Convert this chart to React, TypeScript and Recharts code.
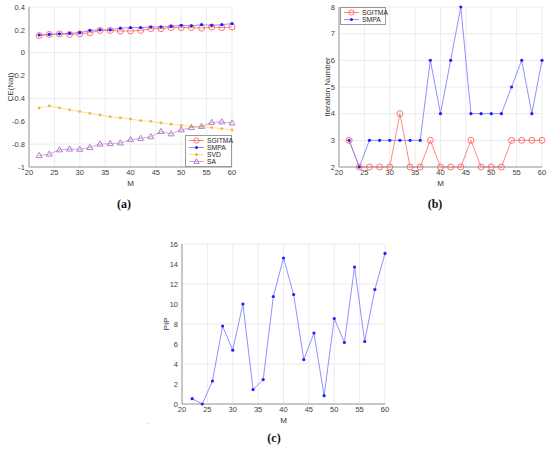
import React from 'react';
import { LineChart, Line, XAxis, YAxis, CartesianGrid, Legend } from 'recharts';

// x values shared by every panel
const mValues = [22, 24, 26, 28, 30, 32, 34, 36, 38, 40, 42, 44, 46, 48, 50, 52, 54, 56, 58, 60];
const mTicks = [20, 25, 30, 35, 40, 45, 50, 55, 60];

// (a) CE(Nat)
const ceSgitma = [0.15, 0.16, 0.165, 0.16, 0.165, 0.175, 0.195, 0.195, 0.19, 0.19, 0.195, 0.21, 0.21, 0.22, 0.22, 0.22, 0.215, 0.225, 0.22, 0.225];
const ceSmpa = [0.155, 0.16, 0.165, 0.17, 0.175, 0.195, 0.2, 0.2, 0.215, 0.22, 0.22, 0.225, 0.225, 0.23, 0.24, 0.235, 0.245, 0.24, 0.245, 0.255];
const ceSvd = [-0.483, -0.466, -0.482, -0.5, -0.515, -0.53, -0.545, -0.56, -0.57, -0.58, -0.595, -0.6, -0.615, -0.625, -0.635, -0.645, -0.645, -0.655, -0.665, -0.675];
const ceSa = [-0.9, -0.887, -0.85, -0.843, -0.845, -0.83, -0.8, -0.795, -0.79, -0.76, -0.75, -0.735, -0.69, -0.71, -0.675, -0.655, -0.645, -0.61, -0.605, -0.615];
const ceTicks = [-1, -0.8, -0.6, -0.4, -0.2, 0, 0.2, 0.4];

// (b) Iteration Number
const iterSgitma = [3, 2, 2, 2, 2, 4, 2, 2, 3, 2, 2, 2, 3, 2, 2, 2, 3, 3, 3, 3];
const iterSmpa = [3, 2, 3, 3, 3, 3, 3, 3, 6, 4, 6, 8, 4, 4, 4, 4, 5, 6, 4, 6];
const iterTicks = [2, 3, 4, 5, 6, 7, 8];

// (c) PIP
const pipValues = [0.53, 0, 2.3, 7.8, 5.38, 10.0, 1.44, 2.44, 10.75, 14.6, 10.95, 4.44, 7.1, 0.83, 8.55, 6.15, 13.7, 6.25, 11.45, 15.06];
const pipTicks = [0, 2, 4, 6, 8, 10, 12, 14, 16];

const ceData = mValues.map((m, i) => ({ m, sgitma: ceSgitma[i], smpa: ceSmpa[i], svd: ceSvd[i], sa: ceSa[i] }));
const iterData = mValues.map((m, i) => ({ m, sgitma: iterSgitma[i], smpa: iterSmpa[i] }));
const pipData = mValues.map((m, i) => ({ m, pip: pipValues[i] }));

const FONT = '"Liberation Sans", Arial, sans-serif';
const tickStyle = { fontSize: 7.5, fill: '#404040', fontFamily: FONT };
const labelStyle = { fontSize: 8, fill: '#333', fontFamily: FONT };
const GRID = '#ebebeb';
const BOX = '#9a9a9a';

const RED_LINE = '#ff7c7c';
const RED_MARK = '#ff5050';
const BLUE_LINE = '#8585ff';
const BLUE_MARK = '#1f1fff';
const YEL_LINE = '#ffd98a';
const YEL_MARK = '#f5b52e';
const PUR_LINE = '#c9a3d9';
const PUR_MARK = '#a462bf';

const circleDot = (p: any) => (
  <circle key={`c${p.index}`} cx={p.cx} cy={p.cy} r={3} fill="none" stroke={RED_MARK} strokeWidth={0.8} />
);
const blueDot = (p: any) => <circle key={`b${p.index}`} cx={p.cx} cy={p.cy} r={1.6} fill={BLUE_MARK} />;
const yellowDot = (p: any) => <circle key={`y${p.index}`} cx={p.cx} cy={p.cy} r={1.4} fill={YEL_MARK} />;
const triDot = (p: any) => (
  <path
    key={`t${p.index}`}
    d={`M${p.cx},${p.cy - 3.2}L${p.cx + 3},${p.cy + 2}L${p.cx - 3},${p.cy + 2}Z`}
    fill="none"
    stroke={PUR_MARK}
    strokeWidth={0.8}
  />
);

type Item = { name: string; line: string; mark: string; kind: 'circle' | 'dot' | 'tri' };

const LegendBox = ({ items, width }: { items: Item[]; width: number }) => (
  <div
    style={{
      width,
      boxSizing: 'border-box',
      border: `1px solid ${BOX}`,
      background: '#fff',
      padding: '1px 2px',
      fontFamily: FONT,
      fontSize: 6.8,
      color: '#262626',
    }}
  >
    {items.map((it) => (
      <div key={it.name} style={{ display: 'flex', alignItems: 'center', height: 7 }}>
        <svg width={17} height={7} style={{ flex: 'none' }}>
          <line x1={1} y1={3.5} x2={16} y2={3.5} stroke={it.line} strokeWidth={0.9} />
          {it.kind === 'circle' && <circle cx={8.5} cy={3.5} r={2.6} fill="none" stroke={it.mark} strokeWidth={0.8} />}
          {it.kind === 'dot' && <circle cx={8.5} cy={3.5} r={1.5} fill={it.mark} />}
          {it.kind === 'tri' && (
            <path d="M8.5,0.7L11.2,5.4L5.8,5.4Z" fill="none" stroke={it.mark} strokeWidth={0.8} />
          )}
        </svg>
        <span style={{ marginLeft: 2, whiteSpace: 'nowrap' }}>{it.name}</span>
      </div>
    ))}
  </div>
);

const ceLegend: Item[] = [
  { name: 'SGITMA', line: RED_LINE, mark: RED_MARK, kind: 'circle' },
  { name: 'SMPA', line: BLUE_LINE, mark: BLUE_MARK, kind: 'dot' },
  { name: 'SVD', line: YEL_LINE, mark: YEL_MARK, kind: 'dot' },
  { name: 'SA', line: PUR_LINE, mark: PUR_MARK, kind: 'tri' },
];
const iterLegend: Item[] = ceLegend.slice(0, 2);

const margin = { top: 7, right: 8, left: 0, bottom: 3 };

const panelLabel = (text: string, x: number, y: number) => (
  <div
    style={{
      position: 'absolute',
      left: x - 20,
      top: y - 8,
      width: 40,
      textAlign: 'center',
      fontFamily: '"Liberation Serif", "Times New Roman", serif',
      fontWeight: 'bold',
      fontSize: 12,
      lineHeight: '16px',
      color: '#111',
    }}
  >
    {text}
  </div>
);

export default function App() {
  return (
    <div style={{ position: 'absolute', left: 0, top: 0, width: 550, height: 451, background: '#fff' }}>
      {/* (a) */}
      <div style={{ position: 'absolute', left: 0, top: 0 }}>
        <LineChart width={240} height={190} data={ceData} margin={margin}>
          <CartesianGrid stroke={GRID} />
          <XAxis
            dataKey="m"
            type="number"
            domain={[20, 60]}
            ticks={mTicks}
            axisLine={{ stroke: BOX }}
            tickLine={false}
            tickSize={3}
            tickMargin={0}
            height={20}
            tick={tickStyle}
            label={{ value: 'M', position: 'insideBottom', offset: 1, style: labelStyle }}
          />
          <XAxis xAxisId="top" orientation="top" dataKey="m" type="number" domain={[20, 60]} ticks={mTicks} height={0} tick={false} tickLine={false} axisLine={{ stroke: BOX }} />
          <YAxis
            type="number"
            domain={[-1, 0.4]}
            ticks={ceTicks}
            axisLine={{ stroke: BOX }}
            tickLine={false}
            tickSize={3}
            tickMargin={1}
            width={29}
            tick={tickStyle}
            label={{ value: 'CE(Nat)', angle: -90, position: 'insideLeft', offset: 10, style: { ...labelStyle, textAnchor: 'middle' } }}
          />
          <YAxis yAxisId="right" orientation="right" type="number" domain={[-1, 0.4]} width={0} tick={false} tickLine={false} axisLine={{ stroke: BOX }} />
          <Line dataKey="sgitma" stroke={RED_LINE} strokeWidth={0.9} dot={circleDot} isAnimationActive={false} />
          <Line dataKey="smpa" stroke={BLUE_LINE} strokeWidth={0.9} dot={blueDot} isAnimationActive={false} />
          <Line dataKey="svd" stroke={YEL_LINE} strokeWidth={0.9} dot={yellowDot} isAnimationActive={false} />
          <Line dataKey="sa" stroke={PUR_LINE} strokeWidth={0.9} dot={triDot} isAnimationActive={false} />
          <Legend
            layout="vertical"
            align="center"
            verticalAlign="middle"
            wrapperStyle={{ left: 185, top: 135, width: 47 }}
            content={() => <LegendBox items={ceLegend} width={47} />}
          />
        </LineChart>
      </div>

      {/* (b) */}
      <div style={{ position: 'absolute', left: 310, top: 0 }}>
        <LineChart width={240} height={190} data={iterData} margin={margin}>
          <CartesianGrid stroke={GRID} />
          <XAxis
            dataKey="m"
            type="number"
            domain={[20, 60]}
            ticks={mTicks}
            axisLine={{ stroke: BOX }}
            tickLine={false}
            tickSize={3}
            tickMargin={0}
            height={20}
            tick={tickStyle}
            label={{ value: 'M', position: 'insideBottom', offset: 1, style: labelStyle }}
          />
          <XAxis xAxisId="top" orientation="top" dataKey="m" type="number" domain={[20, 60]} ticks={mTicks} height={0} tick={false} tickLine={false} axisLine={{ stroke: BOX }} />
          <YAxis
            type="number"
            domain={[2, 8]}
            ticks={iterTicks}
            axisLine={{ stroke: BOX }}
            tickLine={false}
            tickSize={3}
            tickMargin={1}
            width={29}
            tick={tickStyle}
            label={{ value: 'Iteration Number', angle: -90, position: 'insideLeft', offset: 17, style: { ...labelStyle, textAnchor: 'middle' } }}
          />
          <YAxis yAxisId="right" orientation="right" type="number" domain={[2, 8]} width={0} tick={false} tickLine={false} axisLine={{ stroke: BOX }} />
          <Line dataKey="sgitma" stroke={RED_LINE} strokeWidth={0.9} dot={circleDot} isAnimationActive={false} />
          <Line dataKey="smpa" stroke={BLUE_LINE} strokeWidth={0.9} dot={blueDot} isAnimationActive={false} />
          <Legend
            layout="vertical"
            align="center"
            verticalAlign="middle"
            wrapperStyle={{ left: 30, top: 7, width: 46 }}
            content={() => <LegendBox items={iterLegend} width={46} />}
          />
        </LineChart>
      </div>

      {/* (c) */}
      <div style={{ position: 'absolute', left: 153, top: 237 }}>
        <LineChart width={240} height={190} data={pipData} margin={margin}>
          <CartesianGrid stroke={GRID} />
          <XAxis
            dataKey="m"
            type="number"
            domain={[20, 60]}
            ticks={mTicks}
            axisLine={{ stroke: BOX }}
            tickLine={false}
            tickSize={3}
            tickMargin={0}
            height={20}
            tick={tickStyle}
            label={{ value: 'M', position: 'insideBottom', offset: 1, style: labelStyle }}
          />
          <XAxis xAxisId="top" orientation="top" dataKey="m" type="number" domain={[20, 60]} ticks={mTicks} height={0} tick={false} tickLine={false} axisLine={{ stroke: BOX }} />
          <YAxis
            type="number"
            domain={[0, 16]}
            ticks={pipTicks}
            axisLine={{ stroke: BOX }}
            tickLine={false}
            tickSize={3}
            tickMargin={1}
            width={29}
            tick={tickStyle}
            label={{ value: 'PIP', angle: -90, position: 'insideLeft', offset: 13, style: { ...labelStyle, textAnchor: 'middle' } }}
          />
          <YAxis yAxisId="right" orientation="right" type="number" domain={[0, 16]} width={0} tick={false} tickLine={false} axisLine={{ stroke: BOX }} />
          <Line dataKey="pip" stroke={BLUE_LINE} strokeWidth={0.9} dot={blueDot} isAnimationActive={false} />
        </LineChart>
      </div>

      {panelLabel('(a)', 124, 204)}
      {panelLabel('(b)', 435, 204)}
      {panelLabel('(c)', 274, 438)}
      <div style={{ position: 'absolute', left: 146, top: 417, fontSize: 8, color: '#aaa', fontFamily: FONT }}>.</div>
    </div>
  );
}
